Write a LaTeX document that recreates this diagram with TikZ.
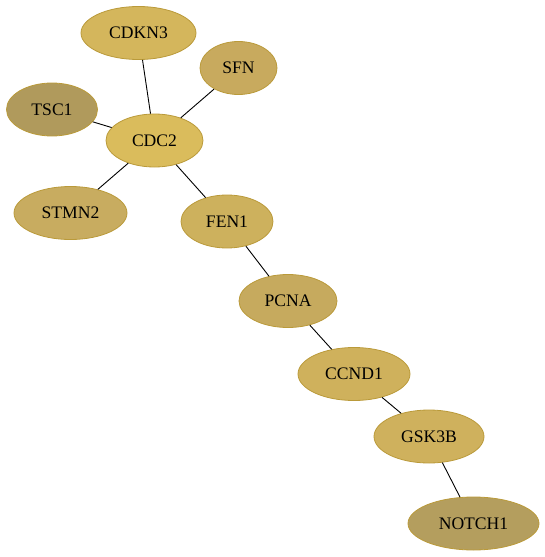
\documentclass[tikz,border=0pt]{standalone}
\usepackage{fontspec}
\setmainfont{Liberation Serif}
\usetikzlibrary{shapes.geometric}
\definecolor{goldline}{HTML}{BA9A3A}
\definecolor{cCDKN3}{HTML}{D4B65C}
\definecolor{cSFN}{HTML}{C8AA5E}
\definecolor{cTSC1}{HTML}{B09A5C}
\definecolor{cCDC2}{HTML}{DABC5C}
\definecolor{cSTMN2}{HTML}{C8AC60}
\definecolor{cFEN1}{HTML}{CDB15D}
\definecolor{cPCNA}{HTML}{C6AA5E}
\definecolor{cCCND1}{HTML}{CFB15C}
\definecolor{cGSK3B}{HTML}{CFB15D}
\definecolor{cNOTCH1}{HTML}{B49E5E}
\begin{document}
\begin{tikzpicture}[x=1pt, y=-1pt,
        node_style/.style={ellipse,draw=goldline,line width=0.8pt,inner sep=0pt,minimum height=53pt,font=\fontsize{17.6}{20}\selectfont},
        edge_style/.style={draw=black, line width=0.9pt,-}]
        \useasboundingbox (0,0) rectangle (545,557);

        \node [node_style,fill=cCDKN3,minimum width=115pt](n1) at (138.5,33) {CDKN3};
        \node [node_style,fill=cSFN,minimum width=77pt](n2) at (238.5,68) {SFN};
        \node [node_style,fill=cTSC1,minimum width=91pt](n3) at (52,109.5) {TSC1};
        \node [node_style,fill=cCDC2,minimum width=97pt](n4) at (154.5,140.5) {CDC2};
        \node [node_style,fill=cSTMN2,minimum width=113pt](n5) at (70.5,213) {STMN2};
        \node [node_style,fill=cFEN1,minimum width=92pt](n6) at (227,221.5) {FEN1};
        \node [node_style,fill=cPCNA,minimum width=98pt](n7) at (288,301) {PCNA};
        \node [node_style,fill=cCCND1,minimum width=112pt](n8) at (354,374) {CCND1};
        \node [node_style,fill=cGSK3B,minimum width=110pt](n9) at (429,436.5) {GSK3B};
        \node [node_style,fill=cNOTCH1,minimum width=131pt](n10) at (473.5,523.5) {NOTCH1};
        \draw [edge_style] (n4) -- (n1);
        \draw [edge_style] (n4) -- (n2);
        \draw [edge_style] (n4) -- (n3);
        \draw [edge_style] (n4) -- (n5);
        \draw [edge_style] (n4) -- (n6);
        \draw [edge_style] (n6) -- (n7);
        \draw [edge_style] (n7) -- (n8);
        \draw [edge_style] (n8) -- (n9);
        \draw [edge_style] (n9) -- (n10);
        \end{tikzpicture}
\end{document}
